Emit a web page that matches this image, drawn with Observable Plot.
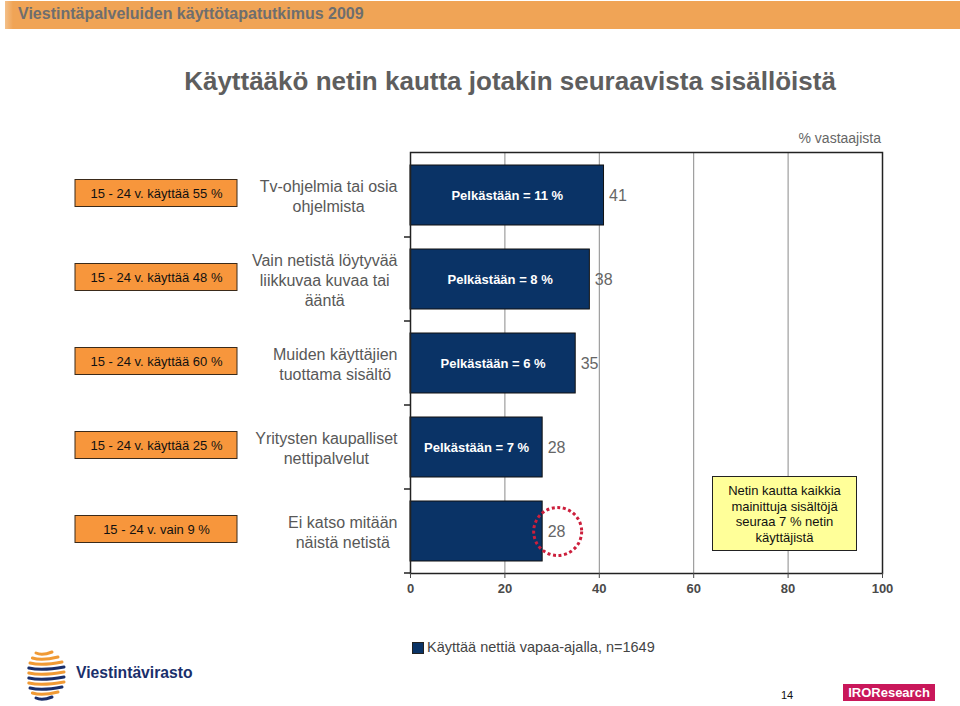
<!DOCTYPE html>
<html><head><meta charset="utf-8">
<script src="https://cdn.jsdelivr.net/npm/d3@7"></script>
<script src="https://cdn.jsdelivr.net/npm/@observablehq/plot@0.6"></script>
<style>
body{margin:0;background:#fff;font-family:"Liberation Sans",Arial,sans-serif;}
#wrap{position:relative;width:960px;height:706px;overflow:hidden;background:#fff;}
.abs{position:absolute;white-space:nowrap;}
</style></head><body><div id="wrap"></div>
<script>
// ---- data ----
const categories = [
  "Tv-ohjelmia tai osia\nohjelmista",
  "Vain netistä löytyvää\nliikkuvaa kuvaa tai\nääntä",
  "Muiden käyttäjien\ntuottama sisältö",
  "Yritysten kaupalliset\nnettipalvelut",
  "Ei katso mitään\nnäistä netistä"
];
const values = [41, 38, 35, 28, 28];
const onlyLabels = ["Pelkästään = 11 %", "Pelkästään = 8 %", "Pelkästään = 6 %", "Pelkästään = 7 %", ""];
const youthLabels = ["15 - 24 v. käyttää 55 %", "15 - 24 v. käyttää 48 %", "15 - 24 v. käyttää 60 %", "15 - 24 v. käyttää 25 %", "15 - 24 v. vain 9 %"];
const xTicks = [0, 20, 40, 60, 80, 100];
const legendLabel = "Käyttää nettiä vapaa-ajalla, n=1649";
const noteLines = ["Netin kautta kaikkia", "mainittuja sisältöjä", "seuraa 7 % netin", "käyttäjistä"];
const headerText = "Viestintäpalveluiden käyttötapatutkimus 2009";
const titleText = "Käyttääkö netin kautta jotakin seuraavista sisällöistä";
const unitText = "% vastaajista";
const pageNumber = "14";

const data = categories.map((c, i) => ({cat: c, value: values[i], only: onlyLabels[i], youth: youthLabels[i]}));

const FONT = "Liberation Sans, Arial, sans-serif";
const ctx = document.createElement("canvas").getContext("2d");
ctx.font = "16px 'Liberation Sans'";
const measure = s => ctx.measureText(s).width;

const NAVY = "#0a3366";

const catMarks = categories.map(c => {
  const w = d3.max(c.split("\n"), measure);
  return Plot.text([c], {y: d => d, text: d => d, frameAnchor: "left", textAnchor: "middle",
    dx: -13 - w / 2, fontSize: 16, lineHeight: 1.27, fill: "#585858"});
});

const plot = Plot.plot({
  width: 960, height: 706,
  marginLeft: 410, marginRight: 78, marginTop: 152, marginBottom: 133,
  style: {fontFamily: FONT, fontSize: "13px", color: "#4a4a4a", background: "transparent"},
  x: {domain: [0, 100], label: null},
  y: {domain: categories, paddingInner: 0.286, paddingOuter: 0.143, axis: null},
  marks: [
    Plot.gridX(xTicks.slice(1, -1), {stroke: "#8a8a8a", strokeOpacity: 1, strokeWidth: 1}),
    Plot.barX(data, {x: "value", y: "cat", fill: NAVY, stroke: "#111", strokeWidth: 1}),
    Plot.text(data.filter(d => d.only), {x: d => d.value / 2, y: "cat", text: "only", fill: "white", fontWeight: "bold", fontSize: 13}),
    Plot.text(data, {x: "value", y: "cat", text: d => String(d.value), dx: 5, textAnchor: "start", fill: "#666", fontSize: 16}),
    Plot.dot(data.slice(-1), {x: "value", y: "cat", dx: 15, r: 24, stroke: "#cc1f3c", strokeWidth: 3, strokeDasharray: "3 2.6", fill: "none"}),
    Plot.frame({stroke: "#222", strokeWidth: 1.5}),
    Plot.axisX(xTicks, {tickSize: 5, tickPadding: 5, fontWeight: "bold", fontSize: 13, label: null}),
    Plot.text(data, {y: "cat", text: "youth", frameAnchor: "left", textAnchor: "middle", dx: -254, dy: -2, fontSize: 13, fill: "#111"}),
    ...catMarks
  ]
});

const wrap = document.getElementById("wrap");
plot.style.position = "absolute";
plot.style.left = "0px";
plot.style.top = "0px";
wrap.appendChild(plot);

// boxes behind the youth labels and band-boundary ticks, positioned with Plot's scales
const ys = plot.scale("y");
const xs = plot.scale("x");
const bw = ys.bandwidth;
const svg = d3.select(plot);
const under = svg.insert("g", "g");
categories.forEach(c => {
  const cy = ys.apply(c) + bw / 2 - 2;
  under.append("rect").attr("x", 75).attr("y", cy - 13.5).attr("width", 162).attr("height", 27)
    .attr("fill", "#f7963c").attr("stroke", "#3a2a1a").attr("stroke-width", 1);
});
const x0 = xs.apply(0);
const tickG = svg.append("g").attr("stroke", "#222").attr("stroke-width", 1.5);
for (let i = 1; i < categories.length; i++) {
  const yb = (ys.apply(categories[i - 1]) + bw + ys.apply(categories[i])) / 2;
  tickG.append("line").attr("x1", x0 - 6).attr("x2", x0).attr("y1", yb).attr("y2", yb);
}
const yBottom = ys.apply(categories[categories.length - 1]) + bw + (ys.apply(categories[1]) - ys.apply(categories[0]) - bw) / 2;
tickG.append("line").attr("x1", x0 - 6).attr("x2", x0).attr("y1", yBottom).attr("y2", yBottom);

// ---- HTML overlays ----
function add(html, css) {
  const d = document.createElement("div");
  d.className = "abs";
  d.innerHTML = html;
  Object.assign(d.style, css);
  wrap.appendChild(d);
  return d;
}
add("", {left: "5px", top: "1px", width: "955px", height: "28px", background: "linear-gradient(90deg,#f3c08a 0px,#f0a456 8px,#f0a456 100%)"});
add(headerText, {left: "18px", top: "5px", fontSize: "16px", fontWeight: "bold", color: "#6e6e6e"});
add(titleText, {left: "0px", width: "1020px", top: "66px", textAlign: "center", fontSize: "26px", fontWeight: "bold", color: "#5e5e5e"});
add(unitText, {right: "79px", top: "130px", fontSize: "14px", color: "#666"});

add(noteLines.join("<br>"), {left: "712px", top: "476px", width: "145px", height: "75px", background: "#ffff99",
  border: "1px solid #222", textAlign: "center", fontSize: "13px", lineHeight: "15.5px", color: "#111",
  paddingTop: "6px", boxSizing: "border-box", whiteSpace: "normal"});

// legend
add("", {left: "412px", top: "642px", width: "10px", height: "10px", background: NAVY, border: "1px solid #222"});
add(legendLabel, {left: "427px", top: "639px", fontSize: "14.5px", color: "#444"});

// footer
add(pageNumber, {left: "781px", top: "689px", fontSize: "11px", color: "#111"});
add("IROResearch", {left: "843px", top: "684px", width: "92px", height: "17px", background: "#c9175a", color: "#fff",
  fontSize: "13px", fontWeight: "bold", lineHeight: "17px", textAlign: "center"});
add("Viestintävirasto", {left: "76px", top: "664px", fontSize: "15.7px", fontWeight: "bold", color: "#1a2f6b"});

// simple globe-like logo mark
const logo = d3.select(wrap).append("svg").attr("width", 50).attr("height", 58)
  .style("position", "absolute").style("left", "18px").style("top", "647px");
const stripes = [
  {y: 6, c: "#f09a35", w: 10}, {y: 11, c: "#f09a35", w: 16}, {y: 16, c: "#f09a35", w: 20},
  {y: 21, c: "#1a2f6b", w: 22}, {y: 26, c: "#f09a35", w: 22}, {y: 31, c: "#1a2f6b", w: 22},
  {y: 36, c: "#f09a35", w: 22}, {y: 41, c: "#1a2f6b", w: 20}, {y: 46, c: "#f09a35", w: 16}, {y: 51, c: "#1a2f6b", w: 10}
];
stripes.forEach((s, i) => {
  logo.append("path").attr("d", `M${24 - s.w * 0.6},${s.y} Q${24},${s.y + 3} ${24 + s.w},${s.y - 1}`)
    .attr("stroke", s.c).attr("stroke-width", 3).attr("fill", "none").attr("stroke-linecap", "round");
});
</script>
</body></html>
